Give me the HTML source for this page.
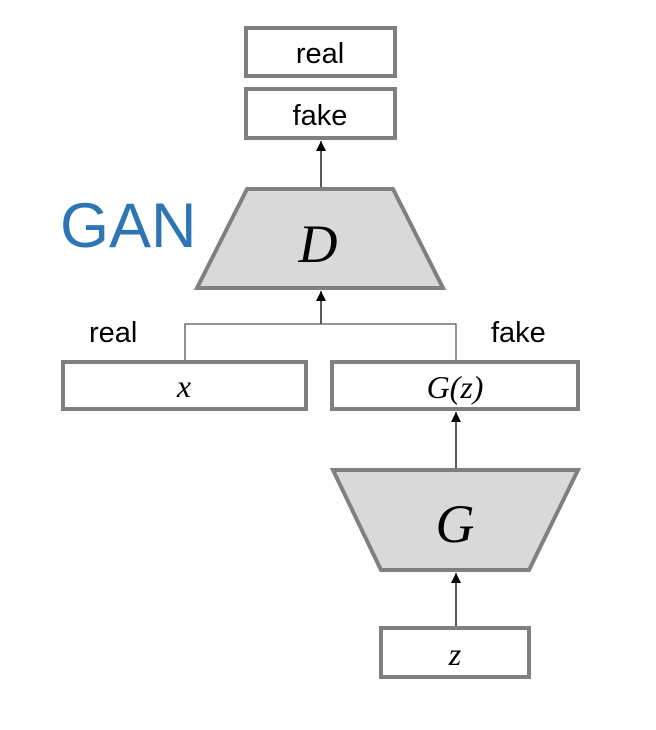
<!DOCTYPE html>
<html><head><meta charset="utf-8"><style>
html,body{margin:0;padding:0;background:#fff;width:656px;height:730px;overflow:hidden}
svg{display:block}
</style></head><body>
<svg width="656" height="730" viewBox="0 0 656 730">
<defs><marker id="ah" markerWidth="10" markerHeight="10" refX="10" refY="5" orient="auto" markerUnits="userSpaceOnUse" viewBox="0 0 10 10"><path d="M0,0 L10,5 L0,10 Z" fill="#000"/></marker></defs>
<g stroke="#808080" stroke-width="4" fill="#fff">
<rect x="246" y="28" width="149" height="48"/>
<rect x="246" y="89" width="149" height="49"/>
<polygon points="247,189 393,189 443,288 197,288" fill="#d9d9d9"/>
<rect x="63" y="362" width="243" height="47"/>
<rect x="332" y="362" width="246" height="47"/>
<polygon points="333,470 578,470 529,570 381,570" fill="#d9d9d9"/>
<rect x="381" y="628" width="148" height="49"/>
</g>
<g stroke="#000" stroke-width="1.3" fill="none">
<line x1="321" y1="187" x2="321" y2="141" marker-end="url(#ah)"/>
<line x1="321" y1="324" x2="321" y2="291" marker-end="url(#ah)"/>
<polyline points="185,360 185,324 456,324 456,360" stroke="#555"/>
<line x1="456" y1="468" x2="456" y2="412" marker-end="url(#ah)"/>
<line x1="456" y1="626" x2="456" y2="573" marker-end="url(#ah)"/>
</g>
<g font-family="Liberation Sans, sans-serif" font-size="29" fill="#000">
<text x="320" y="63" text-anchor="middle">real</text>
<text x="320" y="125" text-anchor="middle">fake</text>
<text x="89" y="342">real</text>
<text x="491" y="342">fake</text>
<text x="60" y="247" font-size="63" fill="#2e75b6">GAN</text>
</g>
<g font-family="Liberation Serif, serif" font-style="italic" fill="#000">
<text x="318" y="262" font-size="54" text-anchor="middle">D</text>
<text x="184" y="397" font-size="32" text-anchor="middle">x</text>
<text x="455" y="398" font-size="32" text-anchor="middle">G(z)</text>
<text x="455" y="542" font-size="54" text-anchor="middle">G</text>
<text x="455" y="665" font-size="32" text-anchor="middle">z</text>
</g>
</svg>
</body></html>
